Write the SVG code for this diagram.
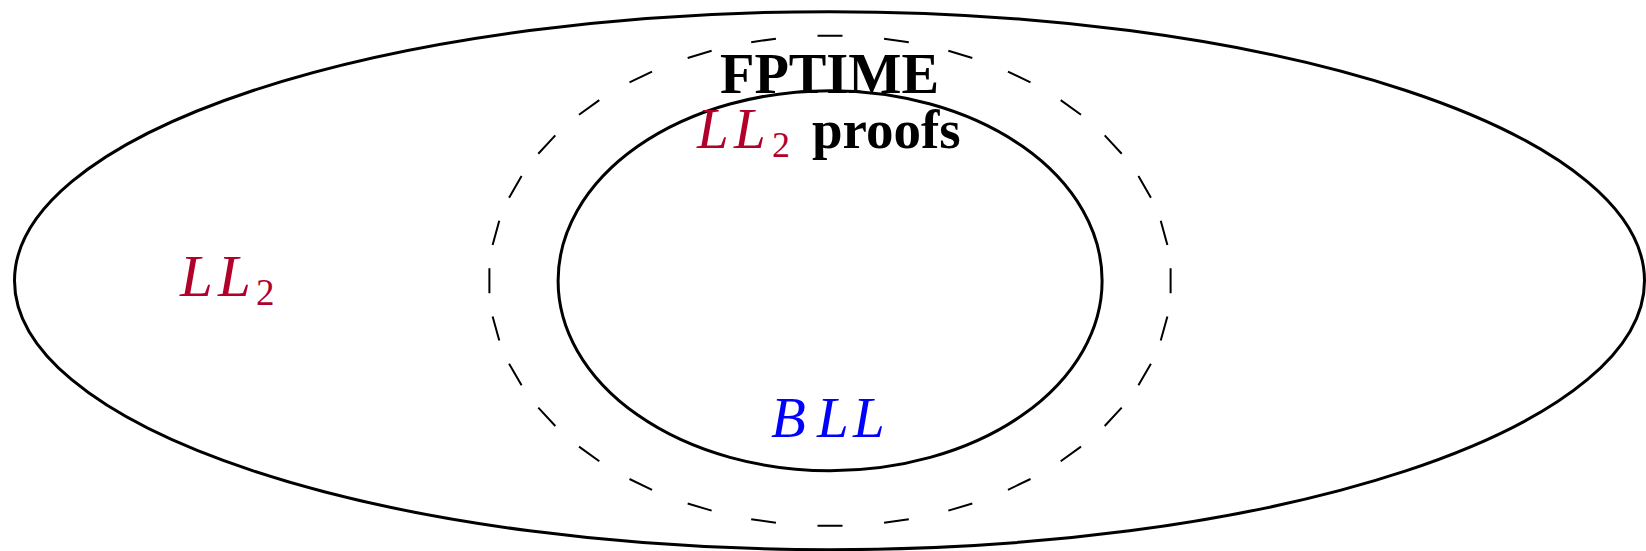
<svg xmlns="http://www.w3.org/2000/svg" width="1646" height="551" viewBox="0 0 1646 551">
<style>
.solid{fill:none;stroke:#000;stroke-width:3}
.dash{fill:none;stroke:#000;stroke-width:2;stroke-linecap:butt}
.bold{font-family:"Liberation Serif","Times New Roman",serif;font-weight:bold;fill:#000}
.math{font-family:"Liberation Serif","Times New Roman",serif;font-style:italic}
.sub{font-family:"Liberation Serif","Times New Roman",serif;font-style:normal}
.red{fill:#b3002b}
.blue{fill:#0000ff}
</style>
<rect x="0" y="0" width="1646" height="551" fill="#fff"/>
<g id="outer-LL2">
<ellipse class="solid" cx="829.5" cy="280.7" rx="815" ry="269"/>
<text class="math red" font-size="59" y="296"><tspan x="180">L</tspan><tspan x="218">L</tspan><tspan class="sub" x="256" dy="9" font-size="37">2</tspan></text>
</g>
<g id="fptime">
<path class="dash" d="M1170.6,268.2L1170.6,293.2M489.4,268.2L489.4,293.2M817.5,35.7L842.5,35.7M817.5,525.7L842.5,525.7
M1167.39,244.95L1160.73,220.85M1150.91,197.77L1138.43,176.11M1121.71,153.75L1104.69,135.43M1080.99,114.76L1060.69,100.16M1030.5,82.4L1007.96,71.58M972.32,57.92L948.36,50.78M908.82,42.18L884.08,38.64
M492.61,244.95L499.27,220.85M509.09,197.77L521.57,176.11M538.29,153.75L555.31,135.43M579.01,114.76L599.31,100.16M629.5,82.4L652.04,71.58M687.68,57.92L711.64,50.78M751.18,42.18L775.92,38.64
M1167.39,316.45L1160.73,340.55M1150.91,363.63L1138.43,385.29M1121.71,407.65L1104.69,425.97M1080.99,446.64L1060.69,461.24M1030.5,479L1007.96,489.82M972.32,503.48L948.36,510.62M908.82,519.22L884.08,522.76
M492.61,316.45L499.27,340.55M509.09,363.63L521.57,385.29M538.29,407.65L555.31,425.97M579.01,446.64L599.31,461.24M629.5,479L652.04,489.82M687.68,503.48L711.64,510.62M751.18,519.22L775.92,522.76"/>
<text class="bold" font-size="57" x="720" y="93" textLength="219" lengthAdjust="spacingAndGlyphs">FPTIME</text>
</g>
<g id="bll">
<ellipse class="solid" cx="830.1" cy="280.7" rx="272" ry="190"/>
<text class="math red" font-size="57" y="148"><tspan x="697">L</tspan><tspan x="734">L</tspan><tspan class="sub" x="772" dy="9" font-size="36">2</tspan></text>
<text class="bold" font-size="55" x="812" y="148">proofs</text>
<text class="math blue" font-size="57" y="437"><tspan x="771">B</tspan><tspan x="817">L</tspan><tspan x="853">L</tspan></text>
</g>
<g id="connectors"></g>
</svg>
